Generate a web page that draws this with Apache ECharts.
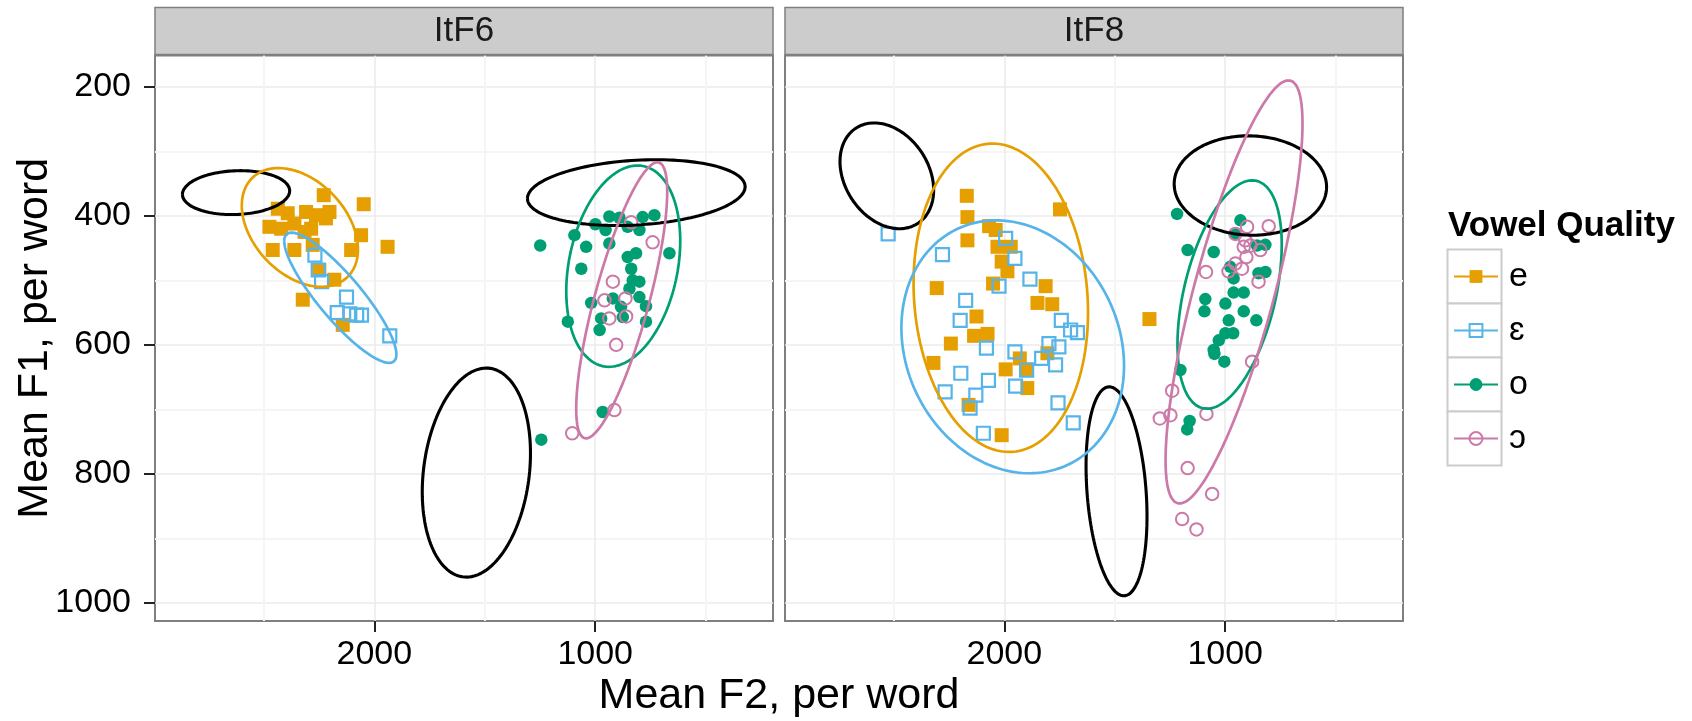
<!DOCTYPE html>
<html>
<head>
<meta charset="utf-8">
<title>Vowel Quality</title>
<script src="https://cdn.jsdelivr.net/npm/echarts@6/dist/echarts.min.js"></script>
<style>
html, body { margin: 0; padding: 0; background: #fff; }
#main { width: 1692px; height: 721px; }
</style>
</head>
<body>
<div id="main"></div>
<script>
// facets and vowel categories
var panels = ['ItF6', 'ItF8'];
var vowels = ['e', 'ɛ', 'o', 'ɔ'];

// axis ticks (F2 runs right to left, F1 top to bottom)
var f2Ticks = [2000, 1000];
var f2Minor = [2500, 1500, 500];
var f1Ticks = [200, 400, 600, 800, 1000];
var f1Minor = [300, 500, 700, 900];
var f2Range = [195, 2993];
var f1Range = [151.5, 1028];

// ItF6 tokens, [F2, F1]
var itf6E = [[2229,368],[2048,382],[2437,389],[2392,396],[2309,394],[2219,404],[2264,399],[2475,417],
  [2422,420],[2362,412],[2286,420],[2060,430],[1940,448],[2460,453],[2362,453],[2279,445],[2105,453],
  [2249,484],[2181,499],[2324,530],[2143,569],[2316,425],[2203,394]];
var itf6Eps = [[2269,461],[2254,484],[2239,502],[2126,526],[2168,550],[2111,552],[2080,554],[2058,554],[1930,586]];
var itf6O = [[1249,446],[1094,430],[1041,448],[1063,482],[999,413],[936,401],[953,422],[890,403],
  [853,417],[800,422],[785,402],[732,399],[936,443],[664,458],[853,464],[815,458],[837,482],[830,500],
  [800,502],[845,513],[1018,535],[920,528],[883,541],[875,557],[800,526],[770,540],[1124,564],[973,559],
  [980,577],[770,564],[966,704],[1244,747]];
var itf6Open = [[837,410],[740,441],[920,502],[958,531],[863,528],[936,559],[860,556],[905,600],[913,701],[1104,737]];

// ItF8 tokens, [F2, F1]
var itf8E = [[2167,402],[1748,390],[2069,416],[2039,422],[2167,438],[2031,448],[1971,448],[2012,471],
  [1986,486],[2306,512],[2051,505],[1813,509],[1850,535],[1783,537],[2126,556],[2137,586],[2076,583],
  [2242,598],[2321,628],[1994,638],[1930,621],[1900,638],[1896,667],[1805,613],[2162,693],[2012,740],
  [1343,560],[2170,369]];
var itf8Eps = [[2526,428],[1994,435],[2280,460],[1952,466],[1884,498],[2024,509],[2175,531],[2200,562],
  [1742,562],[1700,577],[1669,581],[1798,598],[1753,603],[2081,605],[1952,611],[1831,621],[1768,631],
  [1899,639],[2197,644],[2072,655],[2268,673],[1949,664],[2129,678],[2155,698],[1757,690],[1688,721],[2095,737]];
var itf8O = [[1218,397],[931,407],[954,428],[1170,453],[1052,456],[856,446],[818,445],[977,479],
  [962,497],[849,489],[818,487],[962,519],[916,519],[1090,529],[1094,548],[999,536],[916,548],[984,562],
  [859,562],[999,582],[964,582],[1029,593],[1052,608],[1049,614],[1004,626],[1203,639],[1161,718],[1172,731]];
var itf8Open = [[901,417],[803,416],[954,428],[909,438],[886,446],[916,448],[841,453],[904,464],
  [954,474],[924,482],[985,486],[1087,487],[849,502],[878,626],[1240,671],[1296,714],[1248,709],
  [1085,707],[1170,791],[1059,831],[1195,870],[1130,886]];

var tokens = [[itf6E, itf6Eps, itf6O, itf6Open], [itf8E, itf8Eps, itf8O, itf8Open]];

// ellipses: panel, group ('ref' = black reference), centre, half width (F2), half height (F1), correlation
var ellPanel = [0, 0, 0, 0, 0, 0, 0, 1, 1, 1, 1, 1, 1, 1];
var ellGroup = ['ref', 'ref', 'ref', 'e', 'ɛ', 'o', 'ɔ', 'ref', 'ref', 'ref', 'e', 'ɛ', 'o', 'ɔ'];
var ellCx = [2626, 1538, 814, 2337, 2154, 873, 880, 2532, 1492, 886, 2016, 1962, 980, 960];
var ellCy = [364, 798, 364, 418, 527, 478, 531, 338, 827, 353, 527, 603, 522, 518];
var ellHw = [243, 245, 493, 263, 254, 258, 206, 212, 138, 345, 395, 504, 236, 310];
var ellHh = [34, 162, 51, 92, 101, 156, 214, 82, 162, 77, 239, 196, 177, 328];
var ellRho = [0.08, 0.185, 0.18, -0.37, -0.87, 0.25, 0.785, -0.27, -0.24, -0.03, -0.095, -0.15, 0.435, 0.795];

// layout
var PANEL_LEFT = [155, 785];
var PANEL_W = 618;
var PANEL_TOP = 55.5;
var PANEL_H = 565.5;
var STRIP_TOP = 7.5;
var FONT = '"Liberation Sans", Arial, "DejaVu Sans", sans-serif';

var vowelColor = { e: '#E69F00', 'ɛ': '#56B4E9', o: '#009E73', 'ɔ': '#CC79A7', ref: '#000' };
var vowelSymbol = { e: 'rect', 'ɛ': 'rect', o: 'circle', 'ɔ': 'circle' };
var vowelSize = { e: 14, 'ɛ': 13, o: 12.5, 'ɔ': 12.5 };
var vowelItem = {
  e: { color: '#E69F00', opacity: 1 },
  'ɛ': { color: 'rgba(0,0,0,0)', borderColor: '#56B4E9', borderWidth: 2.2, opacity: 1 },
  o: { color: '#009E73', opacity: 1 },
  'ɔ': { color: 'rgba(0,0,0,0)', borderColor: '#CC79A7', borderWidth: 2, opacity: 1 }
};

function ellipse(k) {
  var pts = [];
  var s = Math.sqrt(1 - ellRho[k] * ellRho[k]);
  for (var i = 0; i <= 144; i++) {
    var t = 2 * Math.PI * i / 144;
    pts.push([ellCx[k] + ellHw[k] * Math.cos(t),
              ellCy[k] + ellHh[k] * (ellRho[k] * Math.cos(t) + s * Math.sin(t))]);
  }
  return pts;
}

function plain(v) { return String(v); }

var grids = [], xAxes = [], yAxes = [], series = [], graphics = [];

panels.forEach(function (name, p) {
  grids.push({
    left: PANEL_LEFT[p], top: PANEL_TOP, width: PANEL_W, height: PANEL_H,
    show: true, backgroundColor: '#fff', borderColor: '#7F7F7F', borderWidth: 2,
    containLabel: false, outerBoundsMode: 'none'
  });
  // strip
  graphics.push({
    type: 'rect', z: 10,
    shape: { x: PANEL_LEFT[p], y: STRIP_TOP, width: PANEL_W, height: PANEL_TOP - STRIP_TOP - 1 },
    style: { fill: '#CCCCCC', stroke: '#7F7F7F', lineWidth: 1.5 }
  });
  graphics.push({
    type: 'text', z: 11, x: PANEL_LEFT[p] + PANEL_W / 2, y: (STRIP_TOP + PANEL_TOP) / 2,
    style: { text: name, font: '35px ' + FONT, fill: '#1A1A1A', align: 'center', verticalAlign: 'middle' }
  });
});

// major axes
panels.forEach(function (name, p) {
  xAxes.push({
    type: 'value', gridIndex: p, inverse: true, min: f2Range[0], max: f2Range[1], position: 'bottom',
    axisLine: { show: false },
    axisTick: { show: true, length: 11, customValues: f2Ticks, lineStyle: { color: '#222', width: 2 } },
    axisLabel: { show: true, customValues: f2Ticks, formatter: plain, margin: 17, fontSize: 34, color: '#000', fontFamily: FONT },
    splitLine: { show: true, lineStyle: { color: '#EBEBEB', width: 1.5 } }
  });
  yAxes.push({
    type: 'value', gridIndex: p, inverse: true, min: f1Range[0], max: f1Range[1], position: 'left',
    axisLine: { show: false },
    axisTick: { show: p === 0, length: 11, customValues: f1Ticks, lineStyle: { color: '#222', width: 2 } },
    axisLabel: { show: p === 0, customValues: f1Ticks, formatter: plain, margin: 24, fontSize: 34, color: '#000', fontFamily: FONT },
    splitLine: { show: true, lineStyle: { color: '#EBEBEB', width: 1.5 } }
  });
});
// minor grid lines
panels.forEach(function (name, p) {
  xAxes.push({
    type: 'value', gridIndex: p, inverse: true, min: f2Range[0], max: f2Range[1], position: 'top',
    axisLine: { show: false }, axisLabel: { show: false },
    axisTick: { show: false, customValues: f2Minor },
    splitLine: { show: true, lineStyle: { color: '#F5F5F5', width: 2 } }
  });
  yAxes.push({
    type: 'value', gridIndex: p, inverse: true, min: f1Range[0], max: f1Range[1], position: 'right',
    axisLine: { show: false }, axisLabel: { show: false },
    axisTick: { show: false, customValues: f1Minor },
    splitLine: { show: true, lineStyle: { color: '#F5F5F5', width: 2 } }
  });
});

// ellipses (first, so the legend takes its line + symbol icons from them)
for (var k = 0; k < ellCx.length; k++) {
  var g = ellGroup[k];
  var isRef = g === 'ref';
  series.push({
    type: 'line', name: isRef ? 'reference' : g,
    xAxisIndex: ellPanel[k], yAxisIndex: ellPanel[k],
    data: ellipse(k), showSymbol: false, smooth: false, silent: true, z: 3,
    symbol: isRef ? 'none' : vowelSymbol[g],
    color: vowelColor[g],
    lineStyle: { color: vowelColor[g], width: isRef ? 3.1 : 2.7 }
  });
}

// tokens
panels.forEach(function (name, p) {
  vowels.forEach(function (v, j) {
    series.push({
      type: 'scatter', name: v, xAxisIndex: p, yAxisIndex: p,
      data: tokens[p][j], symbol: vowelSymbol[v], symbolSize: vowelSize[v],
      itemStyle: vowelItem[v], silent: true, z: 2
    });
  });
});

// axis titles and legend title
graphics.push({
  type: 'text', x: (PANEL_LEFT[0] + PANEL_LEFT[1] + PANEL_W) / 2, y: 696,
  style: { text: 'Mean F2, per word', font: '43px ' + FONT, fill: '#000', align: 'center', verticalAlign: 'middle' }
});
graphics.push({
  type: 'text', x: 35, y: PANEL_TOP + PANEL_H / 2, rotation: Math.PI / 2,
  style: { text: 'Mean F1, per word', font: '43px ' + FONT, fill: '#000', align: 'center', verticalAlign: 'middle' }
});
graphics.push({
  type: 'text', x: 1448, y: 226,
  style: { text: 'Vowel Quality', font: 'bold 35px ' + FONT, fill: '#000', align: 'left', verticalAlign: 'middle' }
});
// legend key boxes
vowels.forEach(function (v, j) {
  graphics.push({
    type: 'rect', z: 0,
    shape: { x: 1447.5, y: 249.5 + j * 54, width: 54, height: 54 },
    style: { fill: '#fff', stroke: '#CCCCCC', lineWidth: 2 }
  });
});

var chart = echarts.init(document.getElementById('main'), null, { renderer: 'canvas' });
chart.setOption({
  animation: false,
  backgroundColor: '#fff',
  textStyle: { fontFamily: FONT },
  grid: grids,
  xAxis: xAxes,
  yAxis: yAxes,
  legend: {
    orient: 'vertical', left: 1453, top: 259.5, padding: 0,
    itemWidth: 44, itemHeight: 16, itemGap: 20, selectedMode: false,
    data: [
      { name: 'e' },
      { name: 'ɛ', itemStyle: { color: 'rgba(0,0,0,0)', borderColor: '#56B4E9', borderWidth: 2 } },
      { name: 'o' },
      { name: 'ɔ', itemStyle: { color: 'rgba(0,0,0,0)', borderColor: '#CC79A7', borderWidth: 2 } }
    ],
    textStyle: { fontSize: 34, color: '#000', lineHeight: 34, padding: [0, 0, 0, 6], fontFamily: FONT }
  },
  graphic: graphics,
  series: series
});
</script>
</body>
</html>
